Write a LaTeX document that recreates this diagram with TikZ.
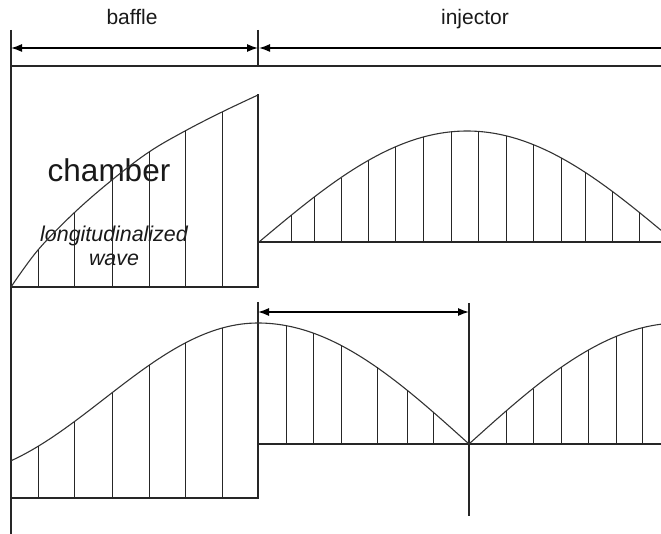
\documentclass[tikz,border=0pt]{standalone}
\usepackage{fontspec}
\setmainfont{Liberation Sans}
\usetikzlibrary{arrows.meta}

\begin{document}
\begin{tikzpicture}[x=1pt, y=-1pt,
  wall/.style={line width=1.1pt, draw=black!85},
  hatch/.style={line width=1pt, draw=black!85},
  wavecurve/.style={line width=1.1pt, draw=black!80},
  dimline/.style={line width=1.4pt, {Latex[length=11pt,width=8pt]}-{Latex[length=11pt,width=8pt]}},
  lbl/.style={font=\fontsize{21}{25}\selectfont, anchor=base, inner sep=0pt, text=black!90},
]
  \useasboundingbox (0,0) rectangle (661,534);

  \node[lbl] (baffle) at (132,25) {baffle};
  \node[lbl] (injector) at (475,25) {injector};
  \node[lbl, font=\fontsize{31.5}{36}\selectfont] (chamber) at (109,182) {chamber};
  \node[lbl, font=\fontsize{21.4}{25}\selectfont\itshape] (longi) at (114,242) {longitudinalized};
  \node[lbl, font=\fontsize{21.4}{25}\selectfont\itshape] (wavelbl) at (114,266) {wave};

  \coordinate (bafL) at (11,48);
  \coordinate (bafR) at (258,48);
  \coordinate (injL) at (259,48);
  \coordinate (injR) at (661,48);
  \coordinate (gapL) at (258,312);
  \coordinate (gapR) at (469,312);

  \draw[wall] (11,30) -- (11,534);
  \draw[wall] (258,30) -- (258,66);
  \draw[wall] (11,66) -- (661,66);
  \draw[dimline] (bafL) -- (bafR);
  \draw[line width=1.4pt, {Latex[length=11pt,width=8pt]}-] (injL) -- (injR);

  \draw[wall] (11,287) -- (258,287) -- (258,94);
  \draw[wall] (258,242) -- (661,242);
  \draw[wavecurve] plot[smooth, tension=0.6] coordinates {(11,287) (38,250) (74,213) (112,180) (149,152) (185,131) (222,112) (258,95)};
  \foreach \x/\y in {38/250, 74/213, 112/180, 149/152, 185/131, 222/112}
    \draw[hatch] (\x,287) -- (\x,\y);
  \draw[wavecurve] plot[domain=259:661, samples=90] (\x,{242-111*sin(0.43269*(\x-259))});
  \foreach \x in {291,314,341,368,395,423,451,478,506,533,561,585,612,639}
    \draw[hatch] (\x,242) -- (\x,{242-111*sin(0.43269*(\x-259))});

  \draw[wall] (258,302) -- (258,498) -- (11,498);
  \draw[wall] (258,444) -- (661,444);
  \draw[wall] (469,303) -- (469,516);
  \draw[dimline] (gapL) -- (gapR);
  \draw[wavecurve] plot[domain=11:258, samples=60] (\x,{323+76*(1-cos(0.5844*(258-\x)))});
  \foreach \x in {38,74,112,149,185,222}
    \draw[hatch] (\x,498) -- (\x,{323+76*(1-cos(0.5844*(258-\x)))});
  \draw[wavecurve] plot[domain=258:469, samples=60] (\x,{444-121*cos(0.42654*(\x-258))});
  \draw[wavecurve] plot[domain=469:661, samples=60] (\x,{444+121*cos(0.42654*(\x-258))});
  \foreach \x in {286,313,341,377,407,433,506,533,561,588,616,642}
    \draw[hatch] (\x,444) -- (\x,{444-121*abs(cos(0.42654*(\x-258)))});
\end{tikzpicture}
\end{document}
